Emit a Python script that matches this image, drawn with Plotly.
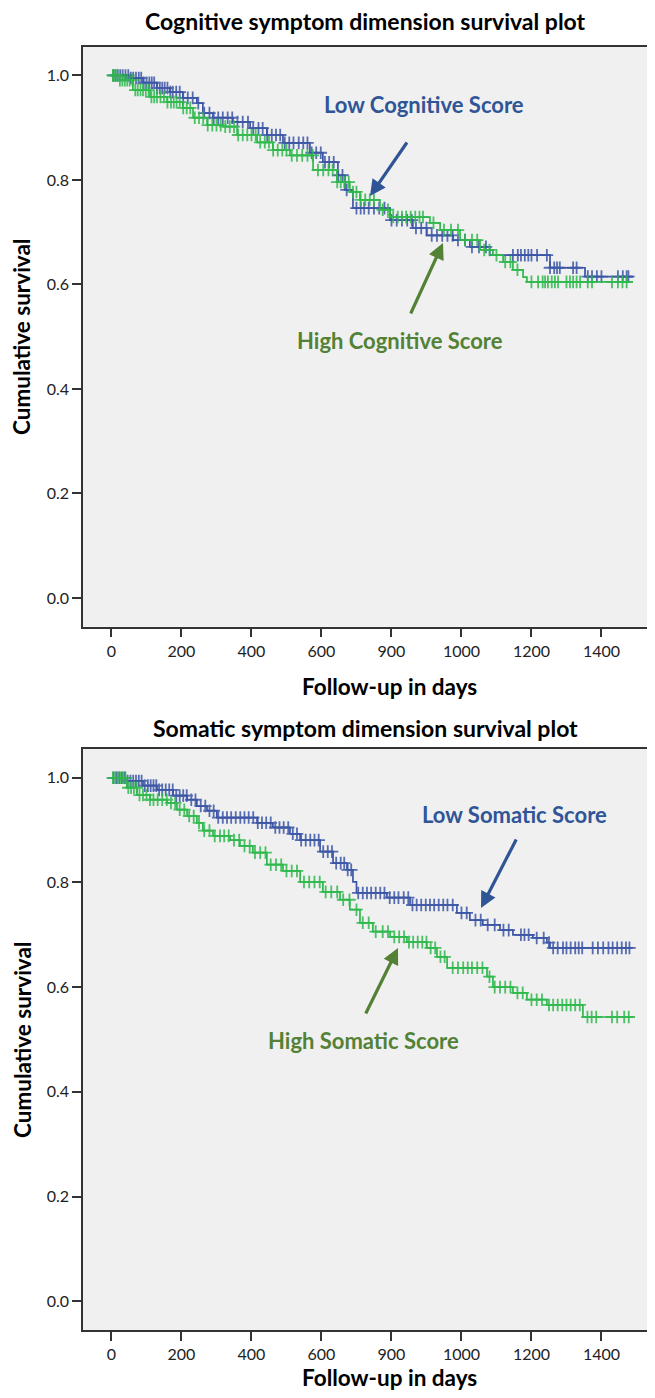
import numpy as np
import plotly.graph_objects as go

# ---------------- data ----------------
tick_vals = [0, 200, 400, 600, 800, 1000, 1200, 1400]
tick_text = ["0", "200", "400", "600", "900", "1000", "1200", "1400"]
y_ticks = [0.0, 0.2, 0.4, 0.6, 0.8, 1.0]

# Cognitive plot - Low Cognitive Score (blue)
cog_low_t = [0, 53, 90, 130, 167, 204, 244, 261, 290, 347, 396, 444, 490, 567, 604, 647,
             667, 690, 796, 861, 901, 976, 1024, 1081, 1253, 1353, 1490]
cog_low_s = [1.0, 0.995, 0.986, 0.976, 0.968, 0.957, 0.947, 0.928, 0.919, 0.911, 0.899, 0.886,
             0.871, 0.852, 0.834, 0.809, 0.781, 0.746, 0.723, 0.708, 0.694, 0.685, 0.672, 0.656,
             0.632, 0.615, 0.615]
cog_low_cens = [5, 12, 18, 25, 32, 40, 48, 55, 62, 70, 78, 85, 92, 100, 108, 115, 122, 130, 138,
                145, 152, 160, 168, 175, 185, 195, 205, 218, 232, 248, 265, 280, 292, 305, 318,
                332, 345, 360, 375, 390, 405, 420, 432, 445, 458, 470, 482, 495, 508, 520, 535,
                548, 560, 572, 585, 598, 610, 622, 635, 648, 660, 672, 700, 712, 722, 735, 750,
                765, 780, 800, 815, 830, 845, 858, 870, 885, 900, 915, 930, 945, 960, 975, 990,
                1010, 1030, 1050, 1070, 1147, 1161, 1170, 1181, 1191, 1200, 1216, 1244, 1253,
                1265, 1273, 1281, 1319, 1329, 1361, 1373, 1387, 1400, 1447, 1461, 1472, 1477]

# Cognitive plot - High Cognitive Score (green)
cog_high_t = [0, 24, 61, 110, 159, 204, 233, 273, 319, 359, 416, 461, 510, 576, 644, 681, 710,
              767, 796, 910, 939, 996, 1053, 1090, 1119, 1147, 1176, 1187, 1490]
cog_high_s = [1.0, 0.991, 0.972, 0.959, 0.949, 0.938, 0.919, 0.905, 0.902, 0.886, 0.872, 0.857,
              0.847, 0.819, 0.796, 0.777, 0.762, 0.743, 0.729, 0.718, 0.704, 0.685, 0.666, 0.656,
              0.643, 0.628, 0.614, 0.605, 0.605]
cog_high_cens = [4, 10, 17, 24, 31, 38, 45, 52, 60, 68, 75, 83, 90, 98, 106, 114, 122, 130, 140,
                 150, 160, 170, 178, 186, 195, 205, 215, 225, 238, 250, 262, 275, 288, 300, 312,
                 325, 338, 350, 362, 375, 388, 400, 412, 425, 438, 450, 462, 475, 488, 500, 515,
                 530, 545, 560, 575, 590, 605, 620, 632, 645, 655, 665, 678, 690, 700, 712, 725,
                 738, 750, 775, 790, 805, 818, 830, 842, 855, 868, 880, 890, 920, 950, 970, 990,
                 1010, 1030, 1045, 1065, 1080, 1100, 1125, 1140, 1160, 1200, 1219, 1232, 1239,
                 1247, 1258, 1267, 1276, 1300, 1310, 1319, 1329, 1339, 1361, 1373, 1430, 1447,
                 1460, 1472]

# Somatic plot - Low Somatic Score (blue)
som_low_t = [0, 44, 90, 130, 176, 216, 244, 273, 301, 416, 461, 510, 539, 596, 633, 673, 690,
             700, 787, 853, 987, 1024, 1061, 1110, 1147, 1204, 1244, 1253, 1490]
som_low_s = [1.0, 0.994, 0.985, 0.977, 0.966, 0.958, 0.946, 0.937, 0.924, 0.914, 0.905, 0.893,
             0.881, 0.859, 0.837, 0.824, 0.801, 0.780, 0.771, 0.757, 0.742, 0.728, 0.719, 0.709,
             0.700, 0.694, 0.685, 0.675, 0.675]
som_low_cens = [6, 14, 22, 30, 38, 46, 54, 62, 70, 78, 86, 95, 104, 112, 120, 128, 136, 145, 155,
                165, 175, 185, 195, 205, 215, 228, 240, 255, 268, 280, 292, 305, 318, 330, 342,
                355, 368, 380, 392, 405, 418, 430, 442, 455, 468, 480, 492, 505, 518, 530, 542,
                555, 568, 580, 592, 605, 618, 630, 642, 655, 665, 675, 685, 705, 718, 730, 742,
                755, 768, 780, 795, 808, 820, 835, 848, 860, 872, 885, 898, 910, 922, 935, 948,
                960, 975, 1000, 1015, 1040, 1055, 1075, 1095, 1120, 1135, 1170, 1180, 1192, 1215,
                1235, 1250, 1262, 1275, 1290, 1300, 1312, 1325, 1335, 1345, 1375, 1390, 1405,
                1420, 1432, 1445, 1458, 1470, 1480]

# Somatic plot - High Somatic Score (green)
som_high_t = [0, 44, 73, 110, 159, 187, 216, 244, 261, 290, 339, 367, 404, 444, 490, 539, 604,
              653, 681, 710, 747, 796, 844, 901, 930, 959, 1073, 1090, 1147, 1187, 1244, 1347, 1490]
som_high_s = [1.0, 0.981, 0.967, 0.958, 0.952, 0.939, 0.927, 0.914, 0.899, 0.889, 0.881, 0.870,
              0.857, 0.834, 0.822, 0.801, 0.782, 0.767, 0.748, 0.723, 0.706, 0.696, 0.686, 0.675,
              0.658, 0.637, 0.620, 0.600, 0.589, 0.576, 0.566, 0.543, 0.543]
som_high_cens = [4, 11, 18, 25, 33, 40, 48, 56, 64, 72, 80, 90, 100, 110, 120, 132, 145, 158,
                 170, 182, 195, 208, 222, 235, 250, 265, 280, 295, 310, 322, 335, 350, 365, 380,
                 395, 410, 425, 440, 455, 470, 485, 500, 515, 530, 550, 565, 580, 595, 612, 628,
                 645, 662, 680, 700, 718, 735, 755, 775, 790, 808, 822, 836, 850, 862, 875, 888,
                 900, 912, 925, 940, 952, 975, 990, 1005, 1018, 1030, 1045, 1060, 1080, 1095,
                 1110, 1125, 1140, 1160, 1175, 1200, 1215, 1230, 1250, 1262, 1275, 1288, 1300,
                 1312, 1325, 1338, 1360, 1372, 1385, 1430, 1445, 1465, 1478]

# ---------------- styling ----------------
BLUE = "#3c56a6"
GREEN = "#2fb84c"
ANN_BLUE = "#2f5597"
ANN_GREEN = "#538135"
FONT = "Lato"
OFF = 8                     # page body margin
W, H = 655 - OFF, 1398 - 2 * OFF
L = 83 - OFF


def xp(px):
    return (px - OFF - L) / (W - L)


def yp(py):
    return 1 - (py - OFF) / H


def surv_at(times, surv, t):
    idx = np.searchsorted(np.asarray(times), np.asarray(t), side="right") - 1
    return np.asarray(surv)[idx]


fig = go.Figure()


def add_curves(t, s, cens, color, xa, ya):
    fig.add_trace(go.Scatter(x=t, y=s, mode="lines", line=dict(color=color, width=1.7, shape="hv"),
                             xaxis=xa, yaxis=ya, showlegend=False, hoverinfo="skip"))
    fig.add_trace(go.Scatter(x=cens, y=surv_at(t, s, cens), mode="markers",
                             marker=dict(symbol="cross-thin", size=9,
                                         line=dict(color=color, width=1.8), color=color),
                             opacity=0.85, xaxis=xa, yaxis=ya, showlegend=False))


add_curves(cog_low_t, cog_low_s, cog_low_cens, BLUE, "x", "y")
add_curves(cog_high_t, cog_high_s, cog_high_cens, GREEN, "x", "y")
add_curves(som_low_t, som_low_s, som_low_cens, BLUE, "x2", "y2")
add_curves(som_high_t, som_high_s, som_high_cens, GREEN, "x2", "y2")

xaxis_common = dict(range=[-81.4, 1553], tickmode="array", tickvals=tick_vals, ticktext=tick_text,
                    ticks="outside", ticklen=9, tickwidth=1.5, tickcolor="#333",
                    showline=True, linecolor="#333", linewidth=1.5, mirror=True,
                    showgrid=False, zeroline=False,
                    tickfont=dict(family=FONT, size=16, color="#222"))
yaxis_common = dict(range=[-0.055, 1.055], tickmode="array", tickvals=y_ticks, tickformat=".1f",
                    ticks="outside", ticklen=9, tickwidth=1.5, tickcolor="#333",
                    showline=True, linecolor="#333", linewidth=1.5, mirror=False,
                    showgrid=False, zeroline=False,
                    tickfont=dict(family=FONT, size=16, color="#222"))

fig.update_layout(
    width=W, height=H,
    margin=dict(l=L, r=0, t=0, b=0),
    paper_bgcolor="white",
    plot_bgcolor="#f0f0f0",
    xaxis=dict(**xaxis_common, domain=[0, 1], anchor="y"),
    yaxis=dict(**yaxis_common, domain=[yp(626.7), yp(46.7)], anchor="x"),
    xaxis2=dict(**xaxis_common, domain=[0, 1], anchor="y2"),
    yaxis2=dict(**yaxis_common, domain=[yp(1330), yp(749)], anchor="x2"),
)

ann = []


def text(px, py, s, size, color="black", angle=0):
    ann.append(dict(x=xp(px), y=yp(py), xref="paper", yref="paper", text=s, showarrow=False,
                    xanchor="center", yanchor="middle", textangle=angle,
                    font=dict(family=FONT, size=size, color=color)))


def arrow(tx, ty, hx, hy, color):
    ann.append(dict(x=xp(hx), y=yp(hy), xref="paper", yref="paper", ax=tx - hx, ay=ty - hy,
                    axref="pixel", ayref="pixel", text="", showarrow=True,
                    arrowhead=2, arrowsize=1.0, arrowwidth=3.2, arrowcolor=color))


# titles
text(365, 21, "<b>Cognitive symptom dimension survival plot</b>", 23)
text(365, 728, "<b>Somatic symptom dimension survival plot</b>", 23)
# axis titles
text(389, 687, "<b>Follow-up in days</b>", 22.5)
text(389, 1377, "<b>Follow-up in days</b>", 22.5)
text(22, 337, "<b>Cumulative survival</b>", 22.5, angle=-90)
text(22, 1040, "<b>Cumulative survival</b>", 22.5, angle=-90)

# group labels and arrows
text(424, 104, "<b>Low Cognitive Score</b>", 22, ANN_BLUE)
arrow(408, 141, 370, 196, ANN_BLUE)
text(400, 340, "<b>High Cognitive Score</b>", 22, ANN_GREEN)
arrow(410, 315, 443, 243, ANN_GREEN)
text(514, 814, "<b>Low Somatic Score</b>", 22, ANN_BLUE)
arrow(517, 838, 481, 908, ANN_BLUE)
text(363, 1040, "<b>High Somatic Score</b>", 22, ANN_GREEN)
arrow(365, 1015, 398, 948, ANN_GREEN)

fig.update_layout(annotations=ann)

fig.write_html("out.html")
